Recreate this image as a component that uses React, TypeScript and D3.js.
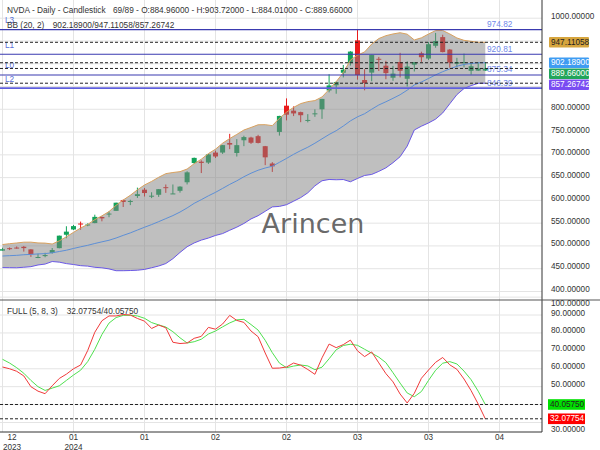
import React from 'react';
import * as d3 from 'd3';

// ---- data (NVDA daily, bar index 0..68) ----
const opens = [489.68,495.11,496.43,498.13,492.44,474.85,477.67,484.62,495.12,524.54,536.16,549.20,546.20,550.20,563.47,569.00,577.00,600.49,597.37,609.60,623.47,609.60,612.32,629.00,614.40,621.00,639.74,682.00,685.00,683.00,705.00,705.00,726.00,704.00,732.00,738.00,741.00,719.00,681.00,750.25,807.90,797.00,793.81,776.20,790.94,800.00,841.30,852.70,880.22,901.58,951.38,864.29,880.49,910.88,895.77,869.30,903.88,867.00,897.97,923.00,911.41,939.41,958.51,931.12,900.00,902.99,884.48,884.84,884.96];
const highs = [496.00,496.80,498.84,499.97,492.95,482.87,485.00,495.47,522.75,543.25,546.00,553.46,549.70,568.59,564.71,575.92,595.00,601.81,601.48,628.00,627.25,617.83,624.90,634.93,634.93,631.00,664.00,694.00,688.00,702.00,709.00,721.85,746.11,734.50,742.00,739.70,744.00,719.56,684.00,785.75,823.94,806.46,794.80,789.33,799.90,823.00,876.95,860.97,897.24,927.67,974.00,887.97,919.60,915.04,906.46,895.46,924.00,905.44,903.49,926.48,947.78,967.66,963.75,932.40,913.00,922.25,900.94,903.74,903.72];
const lows = [489.60,490.85,494.12,487.51,475.95,473.20,475.08,483.06,494.79,516.90,534.89,535.60,543.30,549.87,554.00,563.00,577.00,585.50,589.57,605.44,608.50,605.00,607.61,616.50,614.00,617.00,635.00,680.00,660.00,680.00,693.00,702.00,712.50,696.20,719.00,724.00,725.00,677.34,662.48,742.20,775.70,785.05,771.62,771.25,783.50,779.00,837.20,834.17,870.00,896.00,865.06,841.66,861.50,884.00,866.00,862.57,870.00,850.10,883.00,904.05,908.34,935.10,925.02,891.23,891.93,892.04,876.20,884.00,884.01];
const closes = [492.79,494.17,495.22,495.22,481.68,475.69,479.98,490.97,522.53,531.40,543.50,548.22,547.10,563.82,560.53,571.07,594.91,596.54,598.73,613.62,616.17,610.31,624.65,627.74,615.27,630.27,661.60,693.32,682.23,700.99,696.41,721.33,722.48,721.28,739.00,726.58,726.13,694.52,674.72,785.38,788.17,790.92,787.01,776.63,791.12,822.79,852.37,859.64,887.00,926.69,875.28,857.74,919.13,908.88,879.44,878.37,884.55,893.98,903.72,914.35,942.89,950.02,925.61,902.50,903.56,903.63,894.52,889.64,889.66];

// Bollinger Bands (20, 2)
const bbUpper = [503.1,504.9,506.5,508.2,508.3,506.6,506.2,504.2,511.2,520.0,529.8,539.3,547.1,557.7,566.0,575.4,589.2,600.8,611.2,623.1,633.8,641.7,650.7,658.7,661.2,663.1,668.8,680.6,690.4,702.7,712.4,725.5,735.8,744.8,754.5,760.1,766.0,766.2,764.1,780.2,793.7,804.2,812.5,816.8,819.1,827.1,843.5,860.7,880.6,908.1,918.9,925.9,943.2,955.3,961.6,965.4,968.1,964.9,952.2,956.9,965.2,972.8,973.0,965.4,956.6,951.4,949.2,947.2,947.11058];
const bbMid = [477.84,478.64,479.33,480.71,481.41,482.44,483.15,484.95,487.78,490.59,494.46,498.04,501.35,505.37,508.95,512.46,517.41,523.18,528.62,534.88,541.05,546.86,553.33,559.96,566.64,574.37,583.45,593.57,601.55,610.03,617.68,626.33,635.10,642.97,651.90,659.67,666.23,671.13,674.93,683.52,692.12,701.15,709.27,716.71,725.50,735.13,744.67,752.99,763.22,774.51,783.45,790.27,800.11,809.49,816.51,824.10,832.02,841.99,853.44,859.89,867.63,875.58,882.51,888.80,894.43,898.47,900.58,902.08,902.189];
const bbLower = [452.5,452.3,452.1,453.2,454.5,458.2,460.2,465.8,464.4,461.2,459.2,456.7,455.7,453.1,452.0,449.6,445.6,445.6,446.0,446.7,448.4,452.1,455.9,461.3,472.0,485.7,498.2,506.6,512.8,517.3,523.0,527.1,534.4,541.2,549.3,559.3,566.4,576.0,585.7,586.8,590.5,598.2,606.1,616.6,631.9,643.1,645.9,645.3,645.8,640.9,648.1,654.7,657.0,663.7,671.4,682.8,695.9,719.1,754.6,762.9,770.0,778.4,792.0,812.2,832.2,845.6,852.0,857.0,857.26742];

// Full stochastic (5, 8, 3)
const stochK = [61,60,58.6,56,50,47.5,46.1,50.5,54.6,57,60,62.1,70.2,80.4,86.8,89.5,89.5,90.3,90.0,88.1,86.6,82.5,84.4,82.9,74.8,74.1,74.4,77.0,78.1,83.1,82.1,85.0,89.8,87.0,85.9,81.1,77.9,68.8,60.3,60.4,61.0,63.2,62.0,59.6,56.9,66.1,73.8,71.8,73.5,76.0,70.0,66.8,69.4,63.3,57.3,52.7,45.9,40.9,46.3,54.7,59.3,63.6,66.3,62.2,59.7,54.3,47.8,40.3,32.07754];
const stochD = [65.3,63.2,60.6,57.5,53.5,50,47.9,49.2,50.5,53.5,56.5,59.2,64.0,70.9,79.1,85.5,88.6,89.8,89.9,89.5,88.2,85.8,84.5,83.3,80.7,77.3,74.4,75.1,76.5,79.4,81.1,83.4,85.6,87.3,87.6,84.7,81.6,75.9,69.0,63.2,60.6,61.5,62.1,61.6,59.5,60.9,65.6,70.6,73.0,73.7,73.1,70.9,68.7,66.5,63.4,57.8,52.0,46.5,44.4,47.3,53.5,59.2,63.1,64.0,62.7,58.7,53.9,47.5,40.0575];

// Support / resistance levels
const levelNames = ['L3', 'L1', 'L0', 'L2'];
const levelValues = [974.82, 920.81, 875.34, 846.39];

// Axis ticks
const priceGridTicks = [400, 450, 500, 550, 600, 650, 700, 750, 800, 850, 900, 950, 1000];
const priceLabelTicks = [400, 450, 500, 550, 600, 650, 700, 750, 800, 850, 900, 950, 1000, 1050];
const oscTicks = [30, 40, 50, 60, 70, 80, 90, 100];
const xTickIdx = [0, 10, 20, 30, 40, 50, 60, 70];
const xTickLabels = [['12', '2023'], ['01', '2024'], ['01'], ['02'], ['02'], ['03'], ['03'], ['04']];

const FONT = 'Liberation Sans, Arial, sans-serif';
const PW = 542;
const MAIN_B = 300;
const LOW_B = 432;

const x = d3.scaleLinear().domain([0, 70]).range([2.5, 499.5]);
const yMain = d3.scaleLinear().domain([381.3, 1039.95]).range([MAIN_B, 0]);
const yLow = d3.scaleLinear().domain([24.7, 98.4]).range([LOW_B, MAIN_B]);

const fmt5 = (v: number) => v.toFixed(5);

export default function App() {
  const n = closes.length;
  const idx = d3.range(n);
  const bandArea = d3.area<number>().x((i) => x(i)).y0((i) => yMain(bbLower[i])).y1((i) => yMain(bbUpper[i]))(idx) || '';
  const lineOf = (arr: number[], ys: d3.ScaleLinear<number, number>) =>
    d3.line<number>().x((i) => x(i)).y((i) => ys(arr[i]))(idx) || '';

  const last = n - 1;
  // right side value boxes with collision avoidance
  const boxes = [
    { v: bbUpper[last], fill: '#d6a53e', tc: '#222' },
    { v: bbMid[last], fill: '#3f9cf2', tc: '#fff' },
    { v: closes[last], fill: '#22a55b', tc: '#fff' },
    { v: bbLower[last], fill: '#7a4cf2', tc: '#fff' },
  ].map((b) => ({ ...b, label: fmt5(b.v), y: yMain(b.v) }));
  boxes.sort((a, b) => a.y - b.y);
  for (let k = 1; k < boxes.length; k++) {
    if (boxes[k].y < boxes[k - 1].y + 11) boxes[k].y = boxes[k - 1].y + 11;
  }
  const lowBoxes = [
    { v: stochD[last], fill: '#00e000', tc: '#222' },
    { v: stochK[last], fill: '#ff0000', tc: '#fff' },
  ].map((b) => ({ ...b, y: yLow(b.v) }));

  // tick labels hidden behind value boxes are dropped; the lowest one slides below
  const mainLabels = priceLabelTicks
    .map((t) => ({ t, y: yMain(t) - 2 }))
    .filter((l) => !boxes.some((b) => Math.abs(b.y - l.y) < 9));
  const lowLabels = oscTicks
    .map((t) => {
      let y = Math.max(yLow(t) - 2, 303);
      const hit = lowBoxes.find((b) => Math.abs(b.y - y) < 9);
      if (hit) y = t === oscTicks[0] ? hit.y + 10.5 : NaN;
      return { t, y };
    })
    .filter((l) => !isNaN(l.y));

  const dashedMain = [bbUpper[last], bbMid[last], closes[last], bbLower[last]];
  const dashedLow = [stochD[last], stochK[last]];

  const up = '#12a35a';
  const dn = '#ea1c1c';

  return (
    <div style={{ position: 'absolute', left: 0, top: 0 }}>
      <svg width={600} height={450} style={{ display: 'block', background: '#fff' }} fontFamily={FONT}>
        <defs>
          <clipPath id="cMain"><rect x={0} y={0} width={PW} height={MAIN_B} /></clipPath>
          <clipPath id="cLow"><rect x={0} y={MAIN_B} width={PW} height={LOW_B - MAIN_B} /></clipPath>
          <clipPath id="cAxisMain"><rect x={PW} y={0} width={600 - PW} height={MAIN_B} /></clipPath>
          <clipPath id="cAxisLow"><rect x={PW} y={MAIN_B} width={600 - PW} height={LOW_B - MAIN_B} /></clipPath>
        </defs>

        {/* grid */}
        {priceGridTicks.map((t) => (
          <line key={'hg' + t} x1={0} x2={PW} y1={yMain(t)} y2={yMain(t)} stroke="#e4e4e4" strokeWidth={1} />
        ))}
        {oscTicks.map((t) => (
          <line key={'lg' + t} x1={0} x2={PW} y1={yLow(t)} y2={yLow(t)} stroke="#e4e4e4" strokeWidth={1} />
        ))}
        {xTickIdx.map((t) => (
          <line key={'vg' + t} x1={x(t)} x2={x(t)} y1={0} y2={LOW_B} stroke="#e4e4e4" strokeWidth={1} />
        ))}

        <g clipPath="url(#cMain)">
          {/* candles */}
          {idx.map((i) => {
            const o = opens[i], c = closes[i];
            const col = c >= o ? up : dn;
            const yt = yMain(Math.max(o, c));
            const yb = yMain(Math.min(o, c));
            const xc = x(i);
            return (
              <g key={'c' + i}>
                <line x1={xc} x2={xc} y1={yMain(highs[i])} y2={yMain(lows[i])} stroke={col} strokeWidth={1} />
                <rect x={xc - 2.5} y={yt} width={5} height={Math.max(1, yb - yt)} fill={col} />
              </g>
            );
          })}
          {/* bollinger band */}
          <path d={bandArea} fill="rgb(128,128,128)" fillOpacity={0.5} />
          <path d={lineOf(bbUpper, yMain)} fill="none" stroke="#d9a15e" strokeWidth={1} />
          <path d={lineOf(bbLower, yMain)} fill="none" stroke="#6a58e6" strokeWidth={1} />
          <path d={lineOf(bbMid, yMain)} fill="none" stroke="#5d8fd6" strokeWidth={1} />

          {/* levels */}
          {levelValues.map((v, k) => (
            <g key={'lv' + k}>
              <line x1={0} x2={PW} y1={yMain(v)} y2={yMain(v)} stroke={k === 3 ? '#5f5fdc' : '#3a3ab0'} strokeWidth={k === 3 ? 1.8 : 1.2} />
              <text x={5} y={yMain(v) - 6.5} fontSize={8.3} fill="#5a6fd8">{levelNames[k]}</text>
              <text x={487} y={yMain(v) - 2.5} fontSize={8.3} fill="#7189ea">{v.toFixed(2)}</text>
            </g>
          ))}
          {dashedMain.map((v, k) => (
            <line key={'dm' + k} x1={0} x2={PW} y1={yMain(v)} y2={yMain(v)} stroke="#222" strokeWidth={1} strokeDasharray="3,2" />
          ))}

          <text x={313} y={233} textAnchor="middle" fontFamily="DejaVu Sans, sans-serif" fontSize={27} fill="#555" fillOpacity={0.9}>Arincen</text>
        </g>

        {/* oscillator */}
        <g clipPath="url(#cLow)">
          <path d={lineOf(stochD, yLow)} fill="none" stroke="#4fe04f" strokeWidth={1} />
          <path d={lineOf(stochK, yLow)} fill="none" stroke="#f03a3a" strokeWidth={1} />
          {dashedLow.map((v, k) => (
            <line key={'dl' + k} x1={0} x2={PW} y1={yLow(v)} y2={yLow(v)} stroke="#222" strokeWidth={1} strokeDasharray="3,2" />
          ))}
        </g>

        {/* headers */}
        <text x={7} y={13} fontSize={8.3} fill="#333">NVDA - Daily - Candlestick</text>
        <text x={113} y={13} fontSize={8.3} fill="#333">{`69/89 - O:${fmt5(opens[last])} - H:${fmt5(highs[last])} - L:${fmt5(lows[last])} - C:${fmt5(closes[last])}`}</text>
        <text x={7} y={28} fontSize={8.3} fill="#333">BB (20, 2)</text>
        <text x={52.7} y={28} fontSize={8.3} fill="#333">{`${fmt5(bbMid[last])}/${fmt5(bbUpper[last])}/${fmt5(bbLower[last])}`}</text>
        <text x={7} y={314} fontSize={8.3} fill="#333">FULL (5, 8, 3)</text>
        <text x={66.7} y={314} fontSize={8.3} fill="#333">{`${fmt5(stochK[last])}/${fmt5(stochD[last])}`}</text>

        {/* axes frame */}
        <line x1={PW} x2={PW} y1={0} y2={LOW_B} stroke="#333" strokeWidth={1} />
        <line x1={0} x2={600} y1={MAIN_B} y2={MAIN_B} stroke="#555" strokeWidth={1} />
        <line x1={0} x2={PW} y1={LOW_B} y2={LOW_B} stroke="#333" strokeWidth={1} />

        {/* right axis labels */}
        <g clipPath="url(#cAxisMain)">
          {mainLabels.map((l) => (
            <text key={'pl' + l.t} x={551} y={l.y} dominantBaseline="central" fontSize={8.2} fill="#333">{fmt5(l.t)}</text>
          ))}
          {boxes.map((b, k) => (
            <g key={'bx' + k}>
              <rect x={549} y={b.y - 5.3} width={40} height={10.6} fill={b.fill} rx={1} />
              <text x={551} y={b.y} dominantBaseline="central" fontSize={8.2} fill={b.tc}>{b.label}</text>
            </g>
          ))}
        </g>
        <g clipPath="url(#cAxisLow)">
          {lowLabels.map((l) => (
            <text key={'ol' + l.t} x={551} y={l.y} dominantBaseline="central" fontSize={8.2} fill="#333">{fmt5(l.t)}</text>
          ))}
          {lowBoxes.map((b, k) => (
            <g key={'ob' + k}>
              <rect x={548} y={b.y - 5.3} width={37} height={10.6} fill={b.fill} />
              <text x={550} y={b.y} dominantBaseline="central" fontSize={8.2} fill={b.tc}>{fmt5(b.v)}</text>
            </g>
          ))}
        </g>

        {/* x axis labels */}
        {xTickIdx.map((t, k) => {
          const cx = Math.max(x(t), 12);
          return (
            <g key={'xl' + t}>
              <text x={cx} y={440} textAnchor="middle" fontSize={8.2} fill="#333">{xTickLabels[k][0]}</text>
              {xTickLabels[k][1] && (
                <text x={cx} y={449.5} textAnchor="middle" fontSize={8.2} fill="#333">{xTickLabels[k][1]}</text>
              )}
            </g>
          );
        })}
      </svg>
    </div>
  );
}
